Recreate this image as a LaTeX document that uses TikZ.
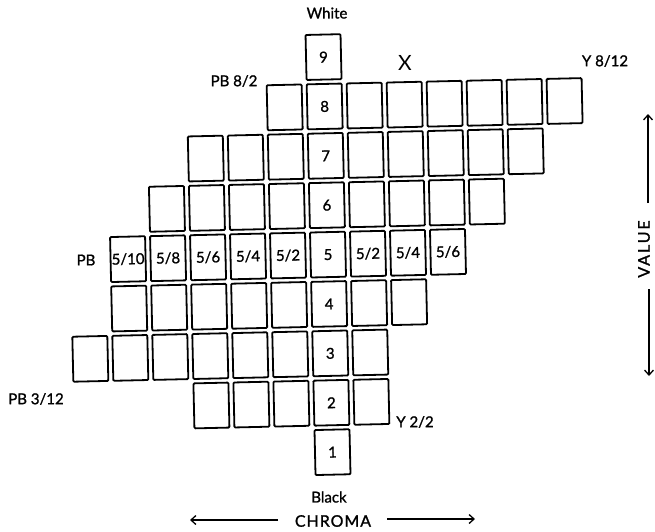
\documentclass[tikz,border=0pt]{standalone}
\usepackage{fontspec}
\setmainfont{Lato}[FakeBold=1.2]
\newfontfamily\xfont{Lato}
\usetikzlibrary{arrows.meta}
\begin{document}
\begin{tikzpicture}[x=1pt,y=-1pt,
  cell/.style={draw, line width=1.8pt, minimum width=35pt, minimum height=45pt, inner sep=0pt, rounded corners=1pt},
  celltext/.style={font=\fontsize{15}{15}\selectfont},
  lab/.style={font=\fontsize{15}{15}\selectfont, inner sep=0pt},
  axis/.style={line width=1.3pt, -{Straight Barb[length=5pt,width=9pt,line width=1.3pt]}}]
\useasboundingbox (0,0) rectangle (655,531);
\begin{scope}[rotate around={1.3:(328,254)}, transform shape]
\foreach \v/\a/\b in {9/6/6, 8/5/12, 7/3/11, 6/2/10, 5/1/9, 4/1/8, 3/0/7, 2/3/7, 1/6/6}
  \foreach \i in {\a,...,\b}
    \node[cell] (c\v x\i) at ({328+40*(\i-6)},{57+49.4*(9-\v)}) {};
\foreach \v in {1,...,9}
  \node[celltext] at (c\v x6) {\v};
\foreach \i/\t in {1/5{/}10, 2/5{/}8, 3/5{/}6, 4/5{/}4, 5/5{/}2, 7/5{/}2, 8/5{/}4, 9/5{/}6}
  \node[celltext] at (c5x\i) {\t};
\end{scope}
\node[lab] (white) at (327,13) {White};
\node[lab, font=\fontsize{21}{21}\xfont] (xmark) at (405,63) {X};
\node[lab] (pb82) at (234,81) {PB 8/2};
\node[lab] (y812) at (605,61) {Y 8/12};
\node[lab] (pb) at (86,260) {PB};
\node[lab] (pb312) at (36,399) {PB 3/12};
\node[lab] (y22) at (415,422) {Y 2/2};
\node[lab] (black) at (329,497) {Black};
\node[lab, font=\fontsize{16}{16}\selectfont\addfontfeatures{LetterSpace=6}] (chroma) at (333,521) {CHROMA};
\node[lab, rotate=90, font=\fontsize{16}{16}\selectfont\addfontfeatures{LetterSpace=12}] (value) at (644,249) {VALUE};
\coordinate (cl) at (190,520);
\coordinate (cr) at (475,519);
\coordinate (vu) at (648,114);
\coordinate (vd) at (649,376);
\draw[axis] (278,520) -- (cl);
\draw[axis] (387,519) -- (cr);
\draw[axis] (648,203) -- (vu);
\draw[axis] (649,289) -- (vd);
\end{tikzpicture}
\end{document}
